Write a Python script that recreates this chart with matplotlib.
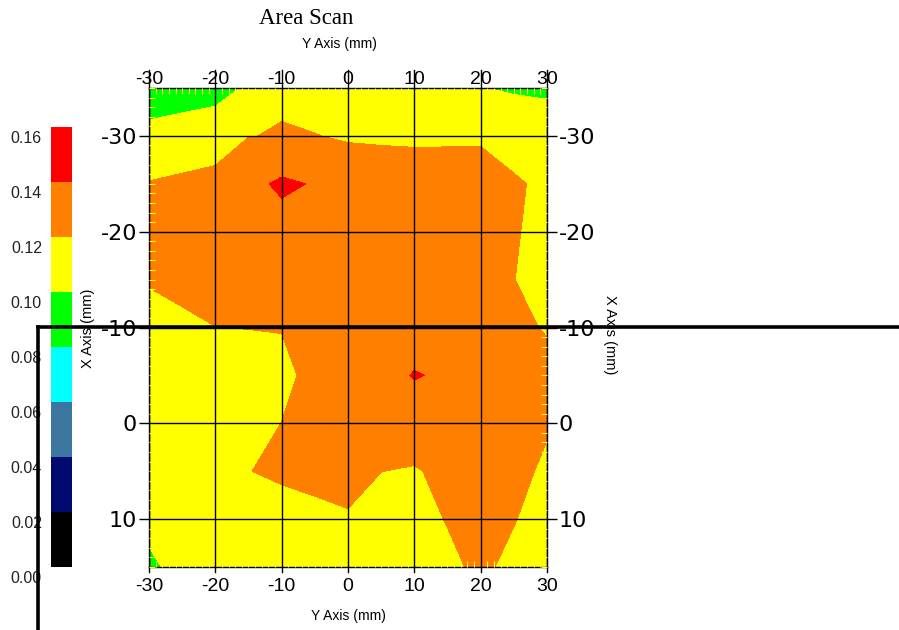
import numpy as np
import matplotlib.pyplot as plt
from matplotlib.colors import ListedColormap, BoundaryNorm
from matplotlib.lines import Line2D
from matplotlib.ticker import MultipleLocator
from matplotlib.transforms import ScaledTranslation

plt.rcParams['axes.unicode_minus'] = False
plt.rcParams['font.family'] = ['Liberation Sans', 'DejaVu Sans']

# --- scan grid (mm) ---
y_pos = np.arange(-30, 31, 5)   # Y Axis, horizontal
x_pos = np.arange(-35, 16, 5)   # X Axis, vertical (top = -35)

# --- measured values, one row per X position ---
row_m35 = [0.0920, 0.0937, 0.0937, 0.1022, 0.1172, 0.1120, 0.1100, 0.1100, 0.1100, 0.1100, 0.1002, 0.0991, 0.0975]
row_m30 = [0.1040, 0.1058, 0.1102, 0.1195, 0.1212, 0.1205, 0.1180, 0.1170, 0.1160, 0.1160, 0.1170, 0.1058, 0.1080]
row_m25 = [0.1210, 0.1240, 0.1260, 0.1349, 0.1431, 0.1388, 0.1323, 0.1320, 0.1327, 0.1334, 0.1306, 0.1240, 0.1135]
row_m20 = [0.1250, 0.1270, 0.1300, 0.1330, 0.1328, 0.1340, 0.1330, 0.1320, 0.1320, 0.1310, 0.1300, 0.1230, 0.1087]
row_m15 = [0.1210, 0.1240, 0.1280, 0.1300, 0.1320, 0.1300, 0.1300, 0.1300, 0.1300, 0.1300, 0.1280, 0.1205, 0.1080]
row_m10 = [0.1150, 0.1169, 0.1198, 0.1205, 0.1210, 0.1260, 0.1300, 0.1320, 0.1355, 0.1340, 0.1320, 0.1250, 0.1182]
row_m05 = [0.1100, 0.1100, 0.1100, 0.1080, 0.1130, 0.1280, 0.1320, 0.1369, 0.1405, 0.1388, 0.1340, 0.1300, 0.1270]
row_p00 = [0.1100, 0.1100, 0.1100, 0.1120, 0.1202, 0.1300, 0.1320, 0.1330, 0.1354, 0.1340, 0.1320, 0.1300, 0.1240]
row_p05 = [0.1100, 0.1100, 0.1120, 0.1195, 0.1240, 0.1260, 0.1306, 0.1202, 0.1179, 0.1260, 0.1300, 0.1316, 0.1129]
row_p10 = [0.1100, 0.1100, 0.1100, 0.1110, 0.1097, 0.1145, 0.1170, 0.1100, 0.1100, 0.1214, 0.1280, 0.1215, 0.1065]
row_p15 = [0.0928, 0.1120, 0.1100, 0.1100, 0.1100, 0.1100, 0.1100, 0.1100, 0.1100, 0.1135, 0.1260, 0.1121, 0.1100]

levels = [0.00, 0.02, 0.04, 0.06, 0.08, 0.10, 0.12, 0.14, 0.16]
level_colors = ['#000000', '#000a6e', '#3a76a0', '#00ffff', '#00ff00', '#ffff00', '#ff8000', '#ff0000']
cbar_labels = ['0.00', '0.02', '0.04', '0.06', '0.08', '0.10', '0.12', '0.14', '0.16']
tick_vals = [-30, -20, -10, 0, 10, 20, 30]
x_ticks = [-30, -20, -10, 0, 10]

Z = np.array([row_m35, row_m30, row_m25, row_m20, row_m15, row_m10,
              row_m05, row_p00, row_p05, row_p10, row_p15])

W, H = 899, 630
fig = plt.figure(figsize=(W / 100, H / 100), dpi=100)
ax = fig.add_axes([149 / W, 1 - 567 / H, 398 / W, 479 / H])

cmap = ListedColormap(level_colors)
norm = BoundaryNorm(levels, cmap.N)
cf = ax.contourf(y_pos, x_pos, Z, levels=levels, cmap=cmap, norm=norm, antialiased=False)

ax.set_xlim(-30, 30)
ax.set_ylim(15, -35)
ax.set_xticks(tick_vals)
ax.set_yticks(x_ticks)
ax.xaxis.set_minor_locator(MultipleLocator(1))
ax.yaxis.set_minor_locator(MultipleLocator(1))
ax.grid(True, which='major', color='black', linewidth=1.0)
ax.set_axisbelow(False)
for s in ax.spines.values():
    s.set_linewidth(1.0)

# bottom labels on the main axis, top labels on a secondary axis
ax.tick_params(axis='x', which='major', top=False, bottom=True, labeltop=False, labelbottom=True,
               length=0, labelsize=14, pad=8)
ax.tick_params(axis='y', which='major', left=True, right=True, labelleft=True, labelright=True,
               direction='out', length=7, width=1.0, labelsize=16, pad=1.5)
for lab in ax.get_yticklabels(which='both'):
    lab.set_family('DejaVu Sans')
# pale inner minor ticks, they only show up on the non-yellow bands
ax.tick_params(which='minor', direction='in', length=4.5, width=0.8, color='#ffff2a',
               top=True, bottom=True, left=True, right=True)

top = ax.secondary_xaxis('top')
top.set_xticks(tick_vals)
top.tick_params(axis='x', length=0, labelsize=14, pad=0)
top.spines['top'].set_visible(False)

# vertical grid lines run up through the top labels
for v in tick_vals:
    ax.plot([v, v], [-35, -36.9], color='black', lw=1.0, clip_on=False)
    ax.plot([v, v], [15, 15.5], color='black', lw=1.0, clip_on=False)

fig.text(348 / W, 1 - 616 / H, 'Y Axis (mm)', fontsize=10, ha='center', va='center')
fig.text(339 / W, 1 - 44 / H, 'Y Axis (mm)', fontsize=10, ha='center', va='center')
fig.text(88 / W, 1 - 328 / H, 'X Axis (mm)', fontsize=10.5, rotation=90, ha='center', va='center')
fig.text(610 / W, 1 - 335 / H, 'X Axis (mm)', fontsize=10.5, rotation=270, ha='center', va='center')
fig.text(306 / W, 1 - 18 / H, 'Area Scan', fontsize=16.5, family='Liberation Serif',
         ha='center', va='center')

# --- colour legend ---
cax = fig.add_axes([51 / W, 1 - 567 / H, 21 / W, 440 / H])
for lo, hi, c in zip(levels[:-1], levels[1:], level_colors):
    cax.axhspan(lo, hi, color=c, lw=0)
cax.set_ylim(levels[0], levels[-1])
cax.set_xlim(0, 1)
cax.set_xticks([])
cax.set_yticks(levels)
cax.set_yticklabels(cbar_labels)
cax.tick_params(axis='y', length=0, labelsize=11.5, pad=6.5, colors='#222222')
for s in cax.spines.values():
    s.set_visible(False)
shift = ScaledTranslation(0, -10 / 100, fig.dpi_scale_trans)
for lab in cax.get_yticklabels():
    lab.set_transform(lab.get_transform() + shift)

# heavy black rule across the figure
fig.add_artist(Line2D([38 / W, 1.0], [1 - 327 / H, 1 - 327 / H], color='black', lw=2.6))
fig.add_artist(Line2D([38 / W, 38 / W], [1 - 327 / H, 0.0], color='black', lw=2.6))

fig.savefig('out.png', dpi=100)
